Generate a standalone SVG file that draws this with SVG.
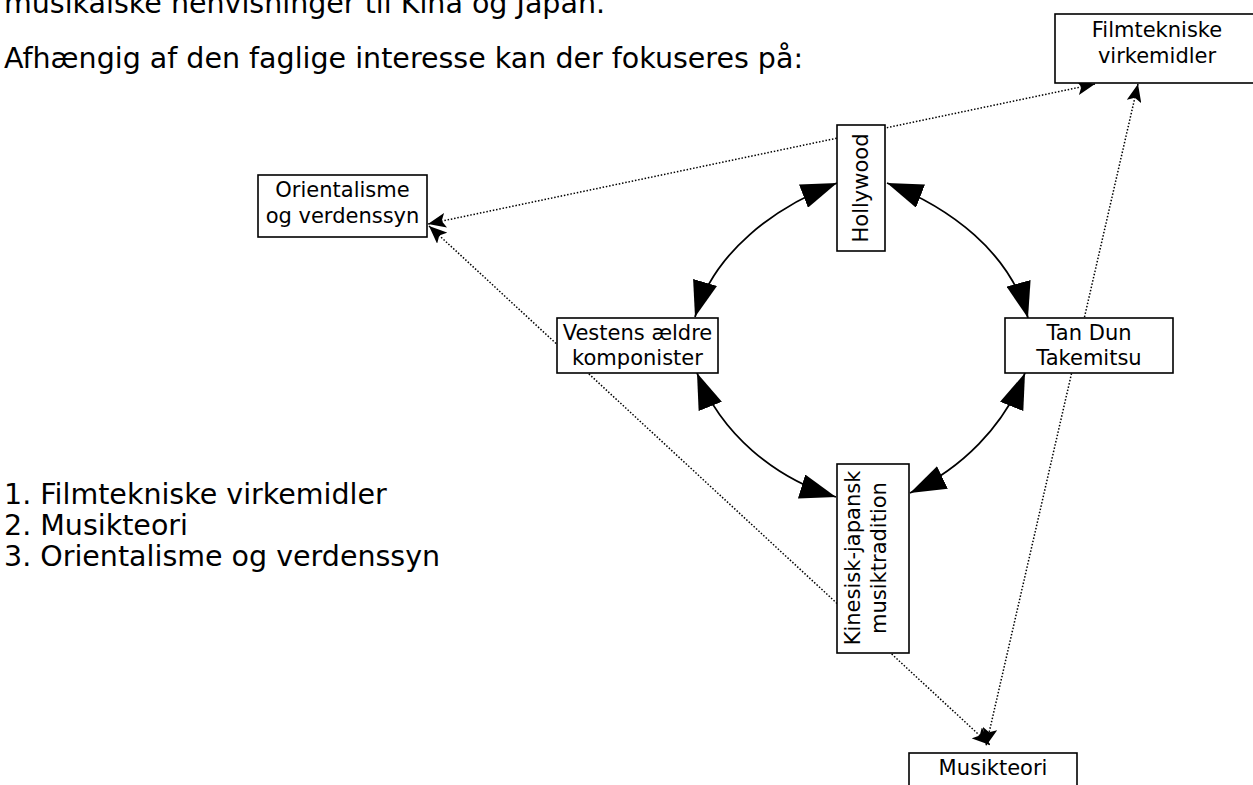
<svg xmlns="http://www.w3.org/2000/svg" width="1253" height="785" viewBox="0 0 1253 785">
<style>
.doc{font-family:"DejaVu Sans","Liberation Sans",sans-serif;font-size:28.5px;fill:#000}
.lbl{font-family:"DejaVu Sans","Liberation Sans",sans-serif;font-size:21px;fill:#000;text-anchor:middle}
.box{fill:#fff;stroke:#000;stroke-width:1.6}
.arc{fill:none;stroke:#000;stroke-width:1.8}
.dot{fill:none;stroke:#000;stroke-width:1.5;stroke-dasharray:1.5 1.8}
</style>
<defs>
<marker id="big" viewBox="0 0 36 25" refX="36" refY="12.5" markerWidth="36" markerHeight="25" markerUnits="userSpaceOnUse" orient="auto-start-reverse">
<path d="M0,0 L36,12.5 L0,25 z" fill="#000"/>
</marker>
<marker id="sm" viewBox="0 0 18 15" refX="18" refY="7.5" markerWidth="18" markerHeight="15" markerUnits="userSpaceOnUse" orient="auto-start-reverse">
<path d="M0,0 L18,7.5 L0,15 L4,7.5 z" fill="#000"/>
</marker>
</defs>
<rect width="1253" height="785" fill="#fff"/>
<g id="text">
<text class="doc" x="4" y="13">musikalske henvisninger til Kina og Japan.</text>
<text class="doc" x="4" y="68">Afhængig af den faglige interesse kan der fokuseres på:</text>
<text class="doc" x="4" y="504">1. Filmtekniske virkemidler</text>
<text class="doc" x="4" y="535">2. Musikteori</text>
<text class="doc" x="4" y="566">3. Orientalisme og verdenssyn</text>
</g>
<g id="connectors">
<path class="dot" d="M1095,84 L428,224" marker-start="url(#sm)" marker-end="url(#sm)"/>
<path class="dot" d="M429,226 L990,745" marker-start="url(#sm)" marker-end="url(#sm)"/>
<path class="dot" d="M1138,84 L986,746" marker-start="url(#sm)" marker-end="url(#sm)"/>
<path class="arc" d="M837,183 C774,207.5 714,252 695,317" marker-start="url(#big)" marker-end="url(#big)"/>
<path class="arc" d="M887,183 C950,207.5 1010,252 1028,318" marker-start="url(#big)" marker-end="url(#big)"/>
<path class="arc" d="M697,373 C721,433.5 774,478 836,497" marker-start="url(#big)" marker-end="url(#big)"/>
<path class="arc" d="M1025,373 C1003.5,427 962,468 910,493" marker-start="url(#big)" marker-end="url(#big)"/>
</g>
<g id="filmtekniske">
<rect class="box" x="1055" y="14" width="205" height="69"/>
<text class="lbl" x="1157" y="37">Filmtekniske</text>
<text class="lbl" x="1157" y="63">virkemidler</text>
</g>
<g id="orientalisme">
<rect class="box" x="258" y="175" width="169" height="62"/>
<text class="lbl" x="342.5" y="197">Orientalisme</text>
<text class="lbl" x="342.5" y="223">og verdenssyn</text>
</g>
<g id="hollywood">
<rect class="box" x="837" y="125" width="48" height="126"/>
<text class="lbl" transform="translate(861,188) rotate(-90)" y="7">Hollywood</text>
</g>
<g id="vestens">
<rect class="box" x="557" y="318" width="161" height="55"/>
<text class="lbl" x="637.5" y="340">Vestens ældre</text>
<text class="lbl" x="637.5" y="365">komponister</text>
</g>
<g id="tandun">
<rect class="box" x="1005" y="318" width="168" height="55"/>
<text class="lbl" x="1089" y="340">Tan Dun</text>
<text class="lbl" x="1089" y="365">Takemitsu</text>
</g>
<g id="kinesisk">
<rect class="box" x="837" y="464" width="72" height="189"/>
<text class="lbl" transform="translate(873,558) rotate(-90)"><tspan x="0" y="-13">Kinesisk-japansk</tspan><tspan x="0" y="13">musiktradition</tspan></text>
</g>
<g id="musikteori">
<rect class="box" x="909" y="753" width="168" height="50"/>
<text class="lbl" x="993" y="775">Musikteori</text>
</g>
</svg>
